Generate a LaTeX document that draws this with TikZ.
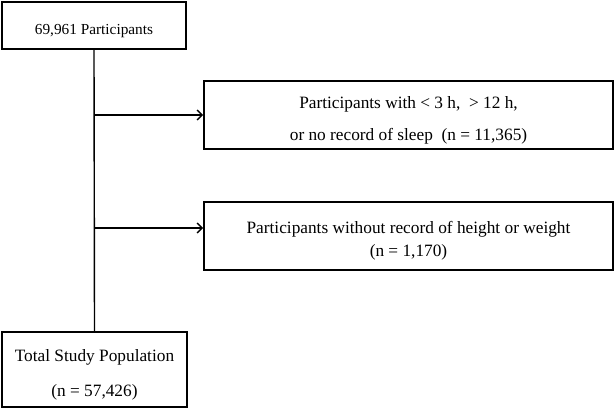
\documentclass[tikz,border=0pt]{standalone}
\usepackage{fontspec}
\setmainfont{Liberation Serif}
\usetikzlibrary{positioning, arrows.meta}

% extra room above the first line, moves the text down a little
\newcommand{\lowerby}{\rule{0pt}{22pt}}

\begin{document}
\begin{tikzpicture}[x=1pt, y=-1pt, thick]
    % Styles
    \tikzstyle{block} = [rectangle, draw, line width=1.6pt, inner sep=0pt, align=center, font=\fontsize{17.3}{20}\selectfont]
    \tikzstyle{arrow} = [line width=1.4pt, -{Straight Barb[length=5pt, width=10pt]}]
    \useasboundingbox (0,0) rectangle (615,409);

    % Main flow
    \node (Start) [block, minimum width=184pt, minimum height=47pt, font=\fontsize{15.3}{18}\selectfont] at (94,25.5) {\lowerby 69,961 Participants};
    \node (Total) [block, minimum width=185pt, minimum height=75pt] at (94.5,369.5) {\lowerby Total Study Population\\[15pt](n = 57,426)};

    % Exclusions
    \node (Excl1) [block, minimum width=409pt, minimum height=68pt] at (408.5,115) {\lowerby Participants with < 3 h,\ \ > 12 h,\\[12pt]or no record of sleep\ \ (n = 11,365)};
    \node (Excl2) [block, minimum width=409pt, minimum height=68pt] at (408.5,236) {\lowerby Participants without record of height or weight\\[3pt](n = 1,170)};

    % Connectors
    \coordinate (Split1) at (Start.south |- Excl1.west);
    \coordinate (Split2) at ([yshift=8pt]Start.south |- Excl2.west);
    \draw [line width=1.4pt] (Start.south) -- (Total.north);
    \draw [arrow] (Split1) -- (Excl1.west);
    \draw [arrow] (Split2) -- (Split2 -| Excl2.west);

\end{tikzpicture}
\end{document}
